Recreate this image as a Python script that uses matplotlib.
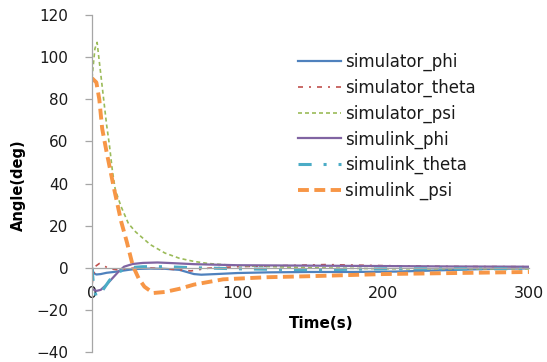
import matplotlib.pyplot as plt

# Data (time in s, angle in deg)
t_sim_phi = [0, 1, 3, 6, 10, 15, 20, 25, 30, 40, 50, 60, 65, 70, 75, 85, 100, 120, 150, 180, 210, 240, 270, 300]
sim_phi = [0, -2.5, -3.2, -3.0, -2.4, -2.0, -1.5, -1.0, -0.6, -0.4, -0.5, -1.0, -2.0, -3.0, -3.3, -3.0, -2.5, -2.2, -2.0, -2.0, -1.8, -1.2, -0.6, -0.3]

t_sim_theta = [0, 2, 5, 8, 12, 18, 25, 35, 50, 60, 68, 80, 100, 130, 160, 200, 250, 300]
sim_theta = [-8, 0.5, 2.0, 1.0, -0.5, -1.0, -0.3, 0.0, -0.5, -1.0, -1.5, -0.2, 0.5, 1.0, 1.5, 1.0, 0.6, 0.5]

t_sim_psi = [0, 2, 3.5, 5, 8, 10, 12, 14, 16, 20, 25, 30, 40, 50, 60, 70, 80, 100, 150, 200, 250, 300]
sim_psi = [90, 104, 107, 98, 80, 68, 58, 46, 37, 29, 21, 17, 11, 7, 4.5, 3, 2, 1, 0, -0.5, -0.5, -0.5]

t_link_phi = [0, 3, 6, 10, 14, 18, 22, 28, 35, 45, 55, 70, 100, 150, 200, 250, 300]
link_phi = [-10, -11, -10.5, -8, -5, -2, 0.5, 1.8, 2.3, 2.5, 2.2, 1.7, 1.2, 1.0, 0.8, 0.6, 0.5]

t_link_theta = [0, 1, 3, 5, 8, 12, 16, 20, 25, 35, 50, 70, 100, 150, 200, 250, 300]
link_theta = [0, -8, -14, -13, -10, -6, -3, -1.5, 0, 0.5, 0.5, 0, -0.5, -1.0, -0.5, -0.5, -0.5]

t_link_psi = [0, 3, 5, 7, 10, 15, 20, 24, 28, 32, 36, 42, 50, 60, 70, 90, 120, 150, 200, 250, 300]
link_psi = [90, 88, 80, 66, 55, 38, 22, 12, 1, -5, -9, -12, -11.5, -10, -8, -5.5, -4.5, -4, -3, -2.5, -2]

fig = plt.figure(figsize=(5.47, 3.62), dpi=100)
ax = fig.add_axes([92 / 547, 1 - 352 / 362, 437 / 547, 337 / 362])

ax.plot(t_sim_phi, sim_phi, color='#4F81BD', lw=1.6, label='simulator_phi')
ax.plot(t_sim_theta, sim_theta, color='#C0504D', lw=1.2, dashes=(3, 3.6, 1.2, 3.6), label='simulator_theta')
ax.plot(t_sim_psi, sim_psi, color='#9BBB59', lw=1.2, dashes=(2.4, 1.8), label='simulator_psi')
ax.plot(t_link_phi, link_phi, color='#8064A2', lw=1.6, label='simulink_phi')
ax.plot(t_link_theta, link_theta, color='#4BACC6', lw=2.2, dashes=(4.3, 3.9, 1, 3.9), label='simulink_theta')
ax.plot(t_link_psi, link_psi, color='#F79646', lw=2.8, dashes=(2.8, 1.4), label='simulink _psi')

ax.set_xlim(0, 300)
ax.set_ylim(-40, 120)
ax.set_xticks([0, 100, 200, 300])
ax.set_yticks(range(-40, 121, 20))

ax.spines['top'].set_visible(False)
ax.spines['right'].set_visible(False)
ax.spines['bottom'].set_position(('data', 0))
for s in ['left', 'bottom']:
    ax.spines[s].set_color('#A6A6A6')
    ax.spines[s].set_linewidth(0.9)

ax.tick_params(axis='x', length=0, pad=13, labelsize=11.5, labelcolor='#1a1a1a')
ax.tick_params(axis='y', length=5, width=0.9, color='#A6A6A6', pad=12, labelsize=11, labelcolor='#1a1a1a')

fig.text(321 / 547, 1 - 323 / 362, 'Time(s)', ha='center', va='center', fontsize=11, fontweight='bold')
fig.text(18 / 547, 1 - 185 / 362, 'Angle(deg)', ha='center', va='center', rotation=90, fontsize=10.5, fontweight='bold')

leg = fig.legend(loc='upper left', bbox_to_anchor=(298 / 547, 1 - 53 / 362), frameon=False,
                 fontsize=12, handlelength=2.6, handletextpad=0.2, labelspacing=0.45,
                 borderpad=0, borderaxespad=0)
for txt in leg.get_texts():
    txt.set_color('#1a1a1a')

fig.savefig('out.png', dpi=100)
